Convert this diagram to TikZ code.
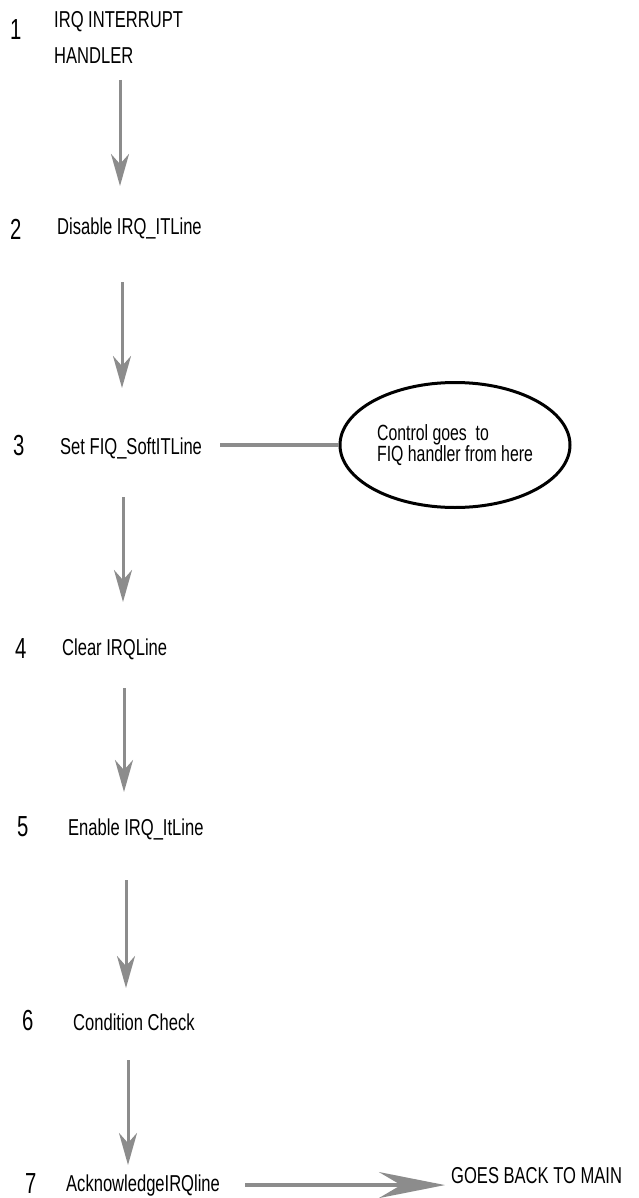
\documentclass[tikz,border=0pt]{standalone}
\usepackage{fontspec}
\setmainfont{Liberation Sans}[FakeStretch=0.72]
\newfontfamily\digitfont{Liberation Sans}[FakeStretch=0.7]
\usetikzlibrary{arrows.meta,shapes.geometric}
\definecolor{arrowgray}{HTML}{8C8C8C}
\tikzset{
  steptext/.style={anchor=base west,inner sep=0pt,font=\fontsize{23}{23}\selectfont},
  stepnum/.style={anchor=base west,inner sep=0pt,font=\digitfont\fontsize{29}{29}\selectfont},
  flow/.style={-{Stealth[length=32pt,width=18pt,inset=10pt]},draw=arrowgray,line width=3pt},
  bigflow/.style={-{Stealth[length=66pt,width=26pt,inset=22pt]},draw=arrowgray,line width=4pt},
  link/.style={draw=arrowgray,line width=4pt},
  bubble/.style={ellipse,draw=black,line width=3pt,minimum width=230pt,minimum height=125pt,align=left,inner sep=0pt,font=\fontsize{22}{21.7}\selectfont},
}

\begin{document}
\begin{tikzpicture}[x=1pt,y=-1pt]
  \useasboundingbox (0,0) rectangle (639,1198);
  % step numbers
  \node[stepnum] (n1) at (10,40) {1};
  \node[stepnum] (n2) at (10,240) {2};
  \node[stepnum] (n3) at (13,455) {3};
  \node[stepnum] (n4) at (15,658) {4};
  \node[stepnum] (n5) at (17,836) {5};
  \node[stepnum] (n6) at (22,1030) {6};
  \node[stepnum] (n7) at (25,1193) {7};
  % step texts
  \node[steptext,anchor=north west,align=left,font=\fontsize{23}{36}\selectfont] (t1) at (54,11) {IRQ INTERRUPT\\HANDLER};
  \node[steptext] (t2) at (57,234) {Disable IRQ\_ITLine};
  \node[steptext] (t3) at (60,454) {Set FIQ\_SoftITLine};
  \node[steptext] (t4) at (62,655) {Clear IRQLine};
  \node[steptext] (t5) at (68,835) {Enable IRQ\_ItLine};
  \node[steptext] (t6) at (73,1030) {Condition Check};
  \node[steptext] (t7) at (66,1191) {AcknowledgeIRQline};
  \node[steptext] (t8) at (451,1183) {GOES BACK TO MAIN};
  \node[bubble] (ctrl) at (455,445) {Control goes~ to\\FIQ handler from here};
  % arrow ends
  \coordinate (a1) at (120,80);  \coordinate (b1) at (120,186);
  \coordinate (a2) at (122,282); \coordinate (b2) at (122,388);
  \coordinate (a3) at (123,497); \coordinate (b3) at (123,602);
  \coordinate (a4) at (124,688); \coordinate (b4) at (124,792);
  \coordinate (a5) at (126,880); \coordinate (b5) at (126,988);
  \coordinate (a6) at (128,1060); \coordinate (b6) at (128,1165);
  \foreach \i in {1,...,6}
    \draw[flow] (a\i) -- (b\i);
  \draw[link] ([xshift=18pt]t3.east |- ctrl) -- (ctrl.west);
  \draw[bigflow,shorten <=25pt,shorten >=6pt] (t7.east) -- (t7.east -| t8.west);
\end{tikzpicture}
\end{document}
